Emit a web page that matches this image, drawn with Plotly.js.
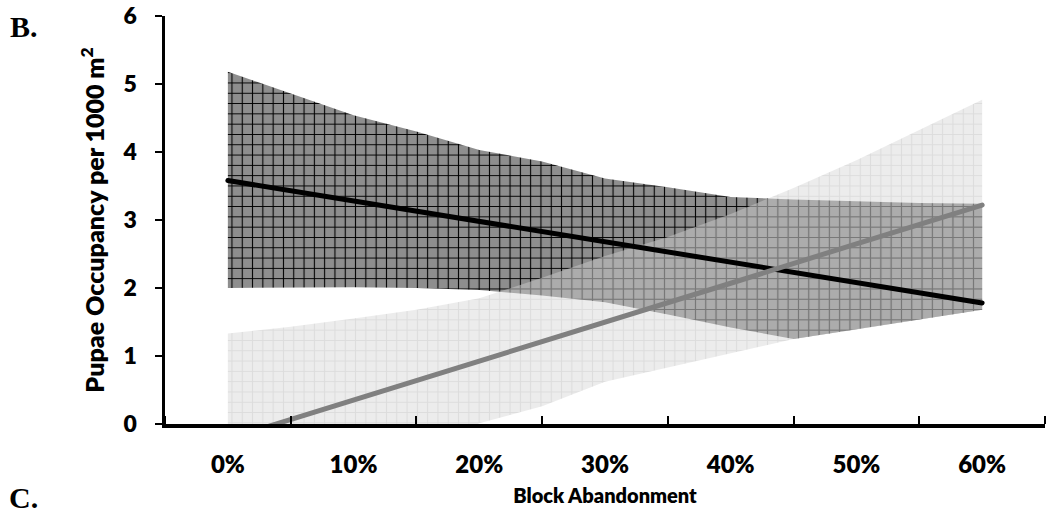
<!DOCTYPE html>
<html>
<head>
<meta charset="utf-8">
<script src="https://cdn.plot.ly/plotly-3.0.1.min.js"></script>
<style>
  html, body { margin: 0; padding: 0; background: #fff; }
  #chart { width: 1050px; height: 516px; }
  .scatterlayer .js-line { stroke-linecap: round; }
</style>
</head>
<body>
<div id="chart"></div>
<script>
// Block abandonment (%) at which the confidence bands are sampled
var bandPct = [0, 5, 10, 15, 20, 25, 30, 35, 40, 45, 50, 55, 60];

// Band around the black trend line
var darkUpper = [5.18, 4.86, 4.54, 4.30, 4.03, 3.86, 3.61, 3.48, 3.34, 3.30, 3.27, 3.25, 3.24];
var darkLower = [2.00, 2.01, 2.01, 2.00, 1.97, 1.89, 1.79, 1.61, 1.42, 1.25, 1.39, 1.54, 1.68];

// Band around the grey trend line
var lightUpper = [1.33, 1.43, 1.55, 1.68, 1.85, 2.15, 2.47, 2.75, 3.09, 3.47, 3.88, 4.32, 4.77];
var lightLower = [-1.77, -1.29, -0.85, -0.40, 0.01, 0.26, 0.62, 0.83, 1.05, 1.25, 1.39, 1.54, 1.68];

// Trend lines at each category
var linePct = [0, 10, 20, 30, 40, 50, 60];
var blackLine = [3.58, 3.28, 2.98, 2.68, 2.38, 2.08, 1.78];
var grayLine = [-0.22, 0.35, 0.93, 1.50, 2.07, 2.65, 3.22];

var tickLabels = ['0%', '10%', '20%', '30%', '40%', '50%', '60%'];
var categoryEdges = [-5, 5, 15, 25, 35, 45, 55, 65];

var sansFamily = 'Lato, "Open Sans", sans-serif';
var serifFamily = '"Liberation Serif", "Times New Roman", serif';

var traces = [
  { x: bandPct, y: darkLower, mode: 'lines', line: { width: 0 }, hoverinfo: 'skip', showlegend: false },
  { x: bandPct, y: darkUpper, mode: 'lines', line: { width: 0 }, fill: 'tonexty',
    fillcolor: '#8e8e8e',
    fillpattern: { shape: '+', size: 10.3, solidity: 0.2, bgcolor: '#8e8e8e', fgcolor: '#000000', fgopacity: 1 },
    hoverinfo: 'skip', showlegend: false },
  { x: bandPct, y: lightLower, mode: 'lines', line: { width: 0 }, hoverinfo: 'skip', showlegend: false },
  { x: bandPct, y: lightUpper, mode: 'lines', line: { width: 0 }, fill: 'tonexty',
    fillcolor: 'rgba(211,211,211,0.43)',
    fillpattern: { shape: '+', size: 10.3, solidity: 0.2, bgcolor: 'rgba(211,211,211,0.43)', fgcolor: '#b4b4b4', fgopacity: 0.3 },
    hoverinfo: 'skip', showlegend: false },
  { x: linePct, y: blackLine, mode: 'lines', line: { color: '#000000', width: 5 }, showlegend: false },
  { x: linePct, y: grayLine, mode: 'lines', line: { color: '#808080', width: 5 }, showlegend: false }
];

var layout = {
  width: 1050,
  height: 516,
  margin: { l: 165, r: 5, t: 16, b: 92 },
  paper_bgcolor: '#ffffff',
  plot_bgcolor: '#ffffff',
  showlegend: false,
  xaxis: {
    range: [-5, 65],
    tickmode: 'array',
    tickvals: linePct,
    ticktext: tickLabels,
    ticks: '',
    ticklabelstandoff: 17,
    tickfont: { family: sansFamily, size: 24, color: '#000', weight: 800 },
    showgrid: false,
    zeroline: false,
    showline: true,
    linecolor: '#000',
    linewidth: 3.5,
    minor: { tickmode: 'array', tickvals: categoryEdges, ticks: 'inside', ticklen: 8, tickwidth: 2, tickcolor: '#000', showgrid: false },
    title: { text: 'Block Abandonment', font: { family: sansFamily, size: 20, color: '#000', weight: 800 }, standoff: 12 }
  },
  yaxis: {
    range: [0, 6],
    tickmode: 'linear',
    tick0: 0,
    dtick: 1,
    ticks: 'outside',
    ticklen: 7,
    tickwidth: 2,
    tickcolor: '#000',
    ticklabelstandoff: 13,
    tickfont: { family: sansFamily, size: 23, color: '#000', weight: 800 },
    showgrid: false,
    zeroline: false,
    showline: true,
    linecolor: '#000',
    linewidth: 3.5,
    title: { text: 'Pupae Occupancy per 1000 m<sup>2</sup>', font: { family: sansFamily, size: 25, color: '#000', weight: 800 }, standoff: 12 }
  },
  annotations: [
    { text: 'B.', xref: 'paper', yref: 'paper', x: -0.178, y: 0.975, xanchor: 'left', yanchor: 'middle',
      showarrow: false, font: { family: serifFamily, size: 30, color: '#000', weight: 700 } },
    { text: 'C.', xref: 'paper', yref: 'paper', x: -0.18, y: -0.18, xanchor: 'left', yanchor: 'middle',
      showarrow: false, font: { family: serifFamily, size: 30, color: '#000', weight: 700 } }
  ]
};

Plotly.newPlot('chart', traces, layout, { displayModeBar: false, staticPlot: true });
</script>
</body>
</html>
